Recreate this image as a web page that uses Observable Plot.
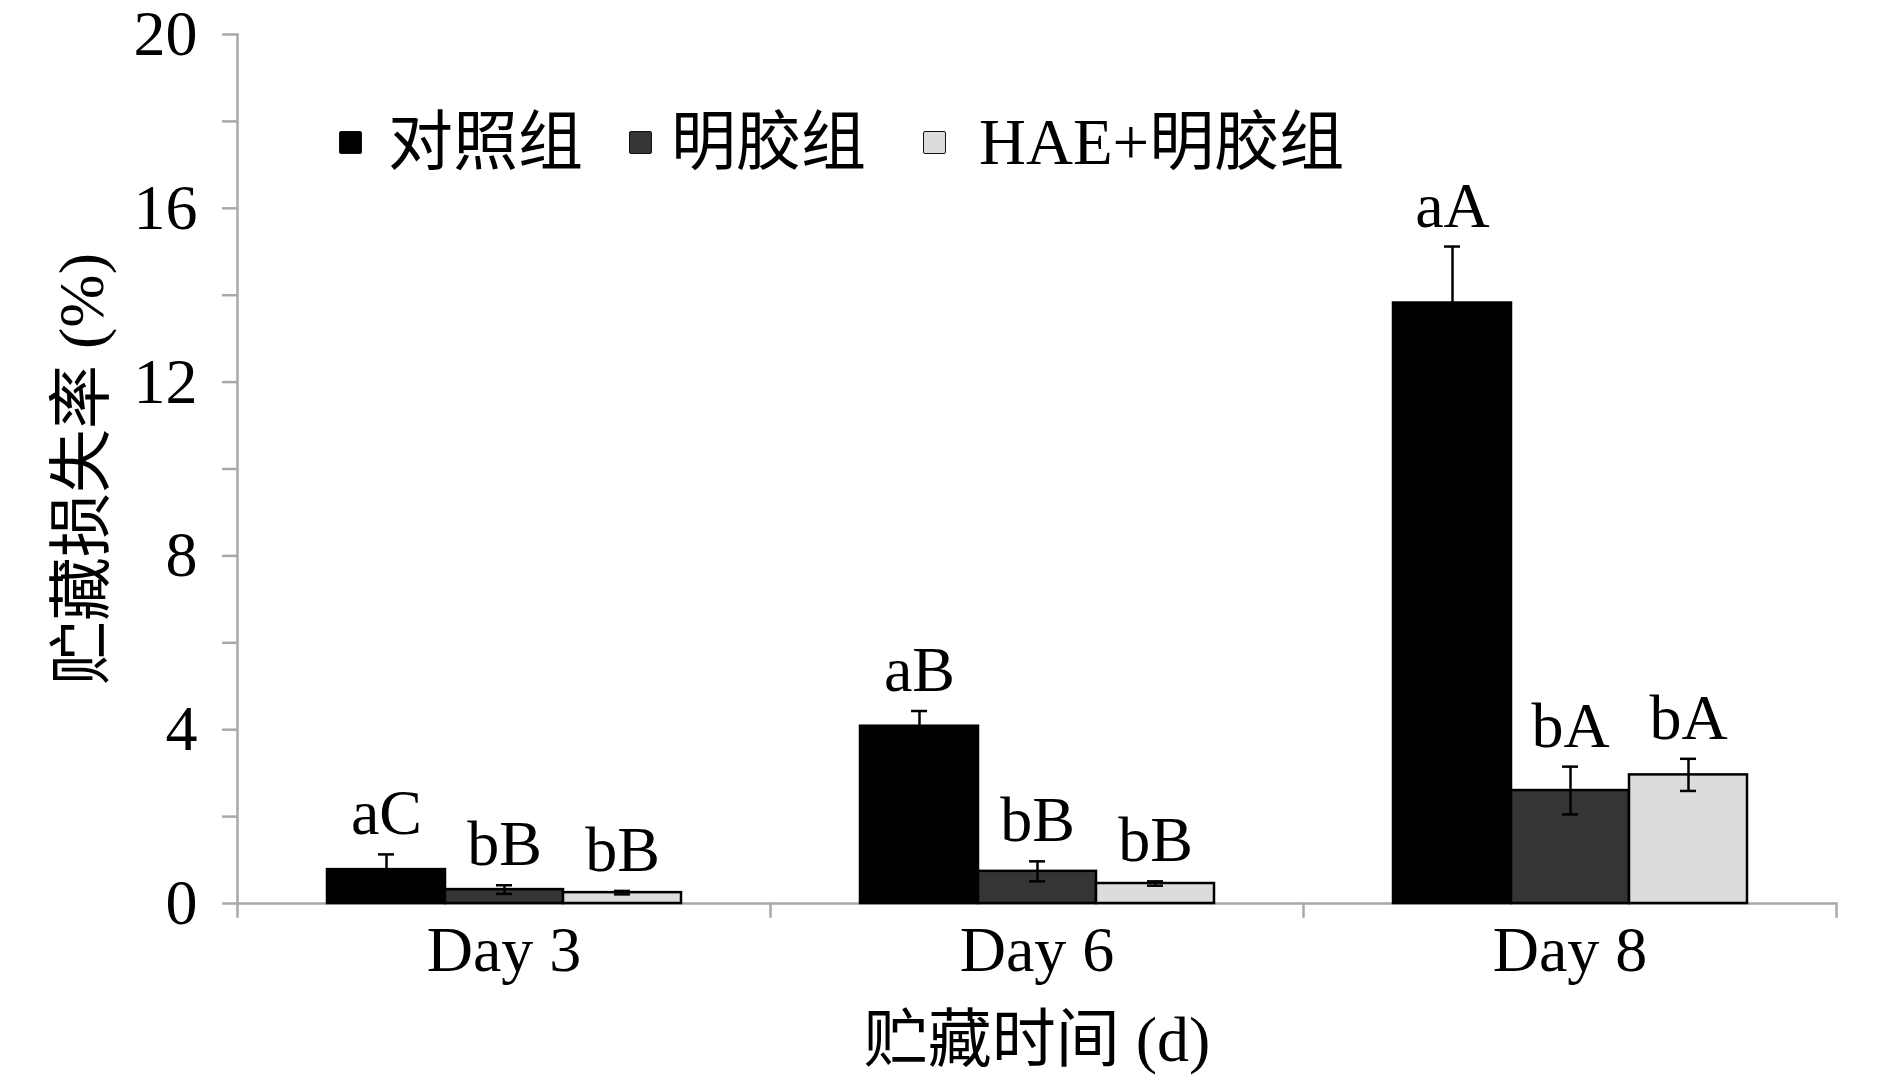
<!DOCTYPE html>
<html>
<head>
<meta charset="utf-8">
<script src="https://cdn.jsdelivr.net/npm/d3@7"></script>
<script src="https://cdn.jsdelivr.net/npm/@observablehq/plot@0.6"></script>
<style>
  body { margin: 0; background: #fff; }
  #wrap { position: relative; width: 1890px; height: 1085px; font-family: "Liberation Serif", "Times New Roman", "Noto Sans CJK SC", serif; }
  #legend { position: absolute; left: 0; top: 107px; height: 70px; width: 1890px; font-size: 65px; color: #000; }
  .item { position: absolute; top: 0; height: 70px; display: flex; align-items: center; white-space: nowrap; }
  .sw { width: 21px; height: 21px; border: 1.5px solid #111; border-radius: 2px; }
  .lab { line-height: 70px; }
</style>
</head>
<body>
<div id="wrap"></div>
<script>
// ---- data ----
const days = ["Day 3", "Day 6", "Day 8"];
const groups = ["对照组", "明胶组", "HAE+明胶组"];
const fills = ["#000000", "#353535", "#dcdcdc"];

const controlValues = [0.78, 4.08, 13.82];
const controlErrors = [0.35, 0.35, 1.30];
const controlLabels = ["aC", "aB", "aA"];

const gelatinValues = [0.32, 0.74, 2.60];
const gelatinErrors = [0.10, 0.23, 0.55];
const gelatinLabels = ["bB", "bB", "bA"];

const haeValues = [0.25, 0.46, 2.96];
const haeErrors = [0.04, 0.05, 0.37];
const haeLabels = ["bB", "bB", "bA"];

const yTicks = d3.range(0, 21, 2);

// ---- table ----
const series = [
  [groups[0], controlValues, controlErrors, controlLabels],
  [groups[1], gelatinValues, gelatinErrors, gelatinLabels],
  [groups[2], haeValues, haeErrors, haeLabels]
];
const rows = [];
days.forEach((day, i) => {
  series.forEach(([group, vals, errs, labs]) => {
    rows.push({day, group, value: vals[i], lo: vals[i] - errs[i], hi: vals[i] + errs[i], label: labs[i]});
  });
});

const gray = "#a9a9a9";
const font = "'Liberation Serif', 'Times New Roman', 'Noto Sans CJK SC', serif";

const plot = Plot.plot({
  width: 1890,
  height: 1085,
  marginLeft: 236,
  marginRight: 53,
  marginTop: 34,
  marginBottom: 182,
  style: {fontFamily: font, fontSize: "64px", background: "#fff", color: "#000", overflow: "visible"},
  fx: {domain: days, padding: 0},
  x: {domain: groups, paddingInner: 0, paddingOuter: 0.742, axis: null},
  y: {domain: [0, 20]},
  color: {domain: groups, range: fills},
  marks: [
    Plot.ruleY([0], {stroke: gray, strokeWidth: 2.5}),
    Plot.frame({anchor: "left", facetAnchor: "left", stroke: gray, strokeWidth: 2.5}),
    Plot.frame({anchor: "left", stroke: gray, strokeWidth: 2.5, insetTop: 869, insetBottom: -13}),
    Plot.frame({anchor: "right", facetAnchor: "right", stroke: gray, strokeWidth: 2.5, insetTop: 869, insetBottom: -13}),
    Plot.axisY({
      ticks: yTicks,
      tickFormat: d => (d % 4 === 0 ? String(d) : ""),
      tickSize: 15,
      tickPadding: 25,
      stroke: gray,
      strokeWidth: 2.5,
      fill: "#000",
      fontSize: 64,
      label: "贮藏损失率 (%)",
      labelAnchor: "center",
      labelArrow: "none",
      labelOffset: 180
    }),
    Plot.axisFx({
      anchor: "bottom",
      tickSize: 0,
      tickPadding: 22,
      fontSize: 64,
      fill: "#000",
      label: "贮藏时间 (d)",
      labelAnchor: "center",
      labelArrow: "none",
      labelOffset: 157
    }),
    Plot.barY(rows, {fx: "day", x: "group", y: "value", fill: "group", stroke: "#000", strokeWidth: 2.5}),
    Plot.ruleX(rows, {fx: "day", x: "group", y1: "lo", y2: "hi", stroke: "#000", strokeWidth: 2.5}),
    Plot.tickY(rows, {fx: "day", x: "group", y: "hi", insetLeft: 51, insetRight: 51, stroke: "#000", strokeWidth: 2.5}),
    Plot.tickY(rows, {fx: "day", x: "group", y: "lo", insetLeft: 51, insetRight: 51, stroke: "#000", strokeWidth: 2.5}),
    Plot.text(rows, {fx: "day", x: "group", y: "hi", text: "label", lineAnchor: "bottom", dy: -20, fontSize: 64, fill: "#000"})
  ]
});

const wrap = document.getElementById("wrap");
wrap.appendChild(plot);

// ---- legend ----
const legend = document.createElement("div");
legend.id = "legend";
const legendX = [339, 629, 923];
const textGap = [26, 19, 33];
groups.forEach((g, i) => {
  const item = document.createElement("div");
  item.className = "item";
  item.style.left = legendX[i] + "px";
  const sw = document.createElement("div");
  sw.className = "sw";
  sw.style.background = fills[i];
  sw.style.marginRight = textGap[i] + "px";
  const lab = document.createElement("span");
  lab.className = "lab";
  lab.textContent = g;
  item.appendChild(sw);
  item.appendChild(lab);
  legend.appendChild(item);
});
wrap.appendChild(legend);
</script>
</body>
</html>
